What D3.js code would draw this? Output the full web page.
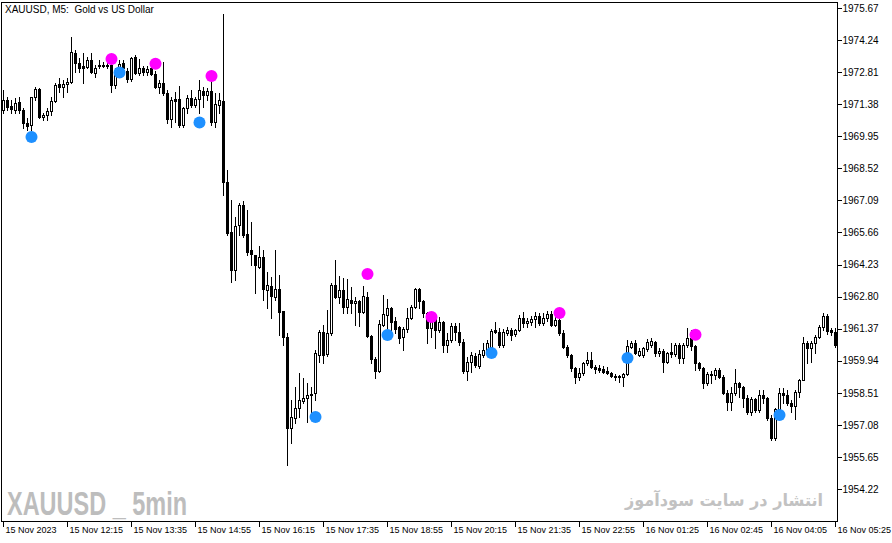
<!DOCTYPE html>
<html>
<head>
<meta charset="utf-8">
<script src="https://cdn.jsdelivr.net/npm/d3@7"></script>
<style>
  body { margin: 0; background: #fff; }
  svg { display: block; }
  .axis text { font-family: "Liberation Sans", Arial, sans-serif; font-size: 10px; fill: #000; }
  .axis line { stroke: #000; }
</style>
</head>
<body>
<div id="chart"></div>
<script>
// XAUUSD M5, 15 Nov 2023 10:55 -> 16 Nov 05:25 (one bar per 5 min)
const opens = [
  1971.12,1971.57,1971.30,1971.12,1971.48,1971.12,1970.55,1970.45,1971.71,1972.06,
  1970.81,1970.90,1971.08,1971.53,1972.28,1972.15,1972.28,1972.37,1973.67,1973.22,
  1973.08,1973.04,1973.35,1972.78,1973.08,1973.13,1973.08,1973.13,1972.24,1972.73,
  1973.22,1972.86,1972.50,1973.49,1972.78,1972.99,1972.82,1972.99,1972.73,1972.15,
  1972.33,1971.88,1970.72,1971.62,1971.62,1970.46,1971.21,1971.66,1971.35,1971.62,
  1971.97,1971.80,1971.97,1970.59,1971.35,1971.53,1967.91,1965.68,1963.99,1966.00,
  1966.89,1965.59,1964.88,1964.66,1964.12,1964.57,1963.10,1963.27,1962.78,1963.14,
  1962.16,1961.00,1956.94,1957.39,1957.83,1958.15,1958.28,1958.46,1958.51,1960.20,
  1961.22,1960.24,1961.18,1963.32,1962.78,1963.10,1962.34,1962.65,1962.52,1962.61,
  1962.11,1962.78,1961.04,1960.02,1959.49,1961.53,1961.98,1962.29,1961.71,1961.44,
  1961.00,1961.36,1961.85,1962.34,1963.14,1962.61,1962.07,1961.40,1961.85,1961.31,
  1961.67,1960.64,1960.87,1961.49,1961.22,1960.78,1959.49,1959.88,1960.15,1959.71,
  1960.20,1960.42,1960.56,1961.31,1961.22,1960.64,1961.18,1961.31,1961.13,1961.31,
  1961.85,1961.62,1961.67,1961.80,1961.93,1961.62,1961.85,1962.02,1961.53,1961.76,
  1961.18,1960.56,1960.20,1959.62,1959.22,1959.40,1959.84,1959.97,1959.66,1959.62,
  1959.57,1959.49,1959.40,1959.26,1959.26,1959.22,1959.35,1960.56,1960.73,1960.20,
  1960.20,1960.47,1960.64,1960.78,1960.29,1960.38,1959.88,1960.33,1960.24,1960.64,
  1960.06,1960.64,1960.95,1960.60,1959.84,1959.62,1958.95,1959.35,1959.31,1959.53,
  1959.22,1958.51,1958.10,1958.51,1958.95,1958.77,1958.28,1957.65,1958.24,1957.74,
  1958.42,1958.28,1957.39,1956.50,1957.79,1958.51,1958.42,1958.06,1957.92,1958.55,
  1959.08,1960.73,1960.51,1960.73,1961.00,1961.44,1961.93,1961.31,1961.22,1960.64
];
const highs = [
  1972.02,1971.71,1971.57,1971.66,1971.71,1971.21,1970.77,1971.71,1972.15,1972.10,
  1970.99,1971.21,1971.71,1972.33,1972.55,1972.46,1972.55,1974.38,1973.80,1973.44,
  1973.67,1973.49,1973.67,1973.13,1973.35,1973.26,1973.26,1973.22,1972.99,1973.35,
  1973.35,1972.99,1973.49,1973.58,1973.40,1973.08,1973.08,1973.04,1972.86,1972.46,
  1973.26,1972.02,1971.71,1971.93,1972.19,1971.26,1971.80,1972.02,1971.71,1972.46,
  1972.15,1972.10,1972.46,1971.88,1971.88,1975.40,1968.45,1967.11,1966.35,1966.98,
  1967.07,1966.66,1966.13,1964.66,1965.06,1964.88,1963.90,1963.68,1964.88,1963.77,
  1962.16,1961.18,1958.19,1958.77,1959.40,1959.17,1958.95,1958.77,1960.42,1961.31,
  1961.53,1962.20,1963.41,1964.43,1963.72,1963.63,1963.59,1963.23,1962.78,1962.65,
  1963.27,1963.01,1961.09,1960.11,1961.76,1962.87,1962.70,1962.34,1961.89,1961.49,
  1961.44,1962.29,1962.43,1963.19,1963.19,1962.65,1962.11,1961.98,1961.93,1961.89,
  1961.71,1961.18,1961.62,1961.62,1961.62,1960.91,1960.11,1960.33,1960.29,1960.42,
  1960.73,1960.87,1961.36,1961.67,1961.40,1961.36,1961.44,1961.40,1961.36,1961.98,
  1962.11,1961.85,1961.93,1962.11,1962.07,1962.07,1962.16,1962.16,1962.11,1961.93,
  1961.31,1960.64,1960.24,1959.66,1959.62,1959.88,1960.33,1960.33,1959.75,1959.75,
  1959.71,1959.66,1959.44,1959.35,1959.31,1959.40,1960.87,1960.82,1960.87,1960.51,
  1960.56,1960.91,1960.95,1960.82,1960.51,1960.47,1960.33,1960.73,1960.73,1960.73,
  1960.73,1961.40,1961.31,1960.64,1959.88,1959.66,1959.44,1959.49,1959.62,1959.62,
  1959.31,1958.64,1958.77,1959.57,1958.99,1958.82,1958.42,1958.32,1958.28,1958.64,
  1958.64,1958.32,1957.52,1957.83,1958.72,1958.72,1958.64,1958.19,1958.64,1959.13,
  1961.00,1960.82,1960.82,1961.09,1961.53,1962.07,1962.02,1961.40,1961.40,1961.09
];
const lows = [
  1970.99,1971.12,1970.99,1970.99,1970.99,1970.32,1970.23,1970.23,1971.57,1970.76,
  1970.68,1970.68,1970.90,1971.48,1971.93,1971.71,1971.93,1972.33,1972.82,1972.82,
  1972.33,1972.99,1972.78,1972.60,1972.99,1973.04,1972.99,1971.93,1972.10,1972.64,
  1972.91,1972.37,1972.42,1972.73,1972.69,1972.69,1972.69,1972.69,1972.10,1971.88,
  1971.80,1970.55,1970.37,1970.59,1970.37,1970.37,1970.99,1971.26,1971.26,1970.99,
  1971.26,1971.57,1970.46,1970.37,1970.99,1967.34,1965.55,1963.45,1963.54,1965.55,
  1965.46,1964.66,1964.21,1962.97,1964.08,1962.65,1962.29,1961.85,1962.65,1961.09,
  1960.64,1955.29,1956.28,1957.17,1957.43,1958.06,1957.21,1957.30,1958.19,1959.88,
  1959.84,1960.15,1961.09,1962.74,1962.52,1962.07,1962.07,1962.07,1961.53,1961.49,
  1962.07,1961.00,1959.84,1959.17,1959.44,1961.49,1961.40,1961.31,1961.18,1960.73,
  1960.42,1961.22,1961.80,1962.29,1962.29,1961.89,1960.73,1961.00,1960.51,1961.22,
  1960.33,1960.33,1960.78,1960.87,1960.64,1959.40,1959.08,1959.44,1959.66,1959.62,
  1960.11,1960.29,1960.42,1961.18,1960.56,1960.56,1961.09,1960.87,1961.04,1961.27,
  1961.44,1961.44,1961.53,1961.44,1961.53,1961.53,1961.71,1961.49,1961.49,1961.09,
  1960.51,1960.11,1959.49,1958.95,1959.08,1959.31,1959.75,1959.62,1959.40,1959.44,
  1959.40,1959.35,1959.22,1959.08,1958.99,1958.82,1959.31,1960.51,1960.24,1960.15,
  1960.11,1960.38,1960.56,1960.15,1960.15,1959.44,1959.84,1960.11,1960.15,1959.84,
  1959.84,1960.56,1960.42,1959.53,1959.53,1958.73,1958.86,1958.95,1959.13,1959.17,
  1958.46,1957.74,1957.74,1958.42,1958.32,1957.88,1957.56,1957.52,1957.65,1957.65,
  1958.06,1957.30,1956.41,1956.41,1957.74,1958.06,1957.97,1957.65,1957.34,1958.32,
  1959.08,1959.84,1959.88,1960.29,1960.95,1961.31,1961.13,1961.09,1960.56,1960.51
];
const closes = [
  1971.57,1971.26,1971.17,1971.44,1971.12,1970.55,1970.41,1971.71,1972.06,1970.81,
  1970.90,1971.08,1971.53,1972.24,1972.15,1972.28,1972.37,1973.71,1973.22,1972.99,
  1972.99,1973.35,1972.82,1972.99,1973.13,1973.08,1973.13,1972.24,1972.91,1973.17,
  1972.99,1972.50,1973.44,1972.78,1972.99,1972.82,1972.95,1972.73,1972.15,1972.33,
  1971.88,1970.72,1971.57,1971.53,1970.46,1971.21,1971.66,1971.35,1971.62,1972.02,
  1971.80,1971.97,1970.59,1971.39,1971.57,1967.91,1965.64,1963.99,1965.95,1966.89,
  1965.55,1964.79,1964.70,1964.21,1964.57,1963.14,1963.32,1962.83,1963.14,1962.11,
  1961.00,1956.94,1957.43,1957.83,1958.19,1958.28,1958.42,1958.42,1960.29,1961.22,
  1960.20,1961.18,1963.32,1962.78,1963.10,1962.34,1962.70,1962.52,1962.61,1962.11,
  1962.83,1961.04,1960.02,1959.49,1961.58,1962.02,1962.29,1961.67,1961.36,1960.95,
  1961.36,1961.85,1962.34,1963.14,1962.61,1962.07,1961.40,1961.85,1961.31,1961.67,
  1960.64,1960.87,1961.49,1961.22,1960.78,1959.49,1959.88,1960.20,1959.75,1960.24,
  1960.42,1960.73,1961.27,1961.22,1960.64,1961.22,1961.31,1961.09,1961.31,1961.85,
  1961.62,1961.71,1961.80,1961.93,1961.62,1961.85,1962.02,1961.53,1961.76,1961.18,
  1960.56,1960.20,1959.62,1959.22,1959.40,1959.84,1959.97,1959.66,1959.57,1959.53,
  1959.44,1959.40,1959.26,1959.22,1959.22,1959.35,1960.60,1960.73,1960.29,1960.38,
  1960.51,1960.78,1960.82,1960.29,1960.38,1959.88,1960.29,1960.24,1960.64,1960.06,
  1960.64,1960.95,1960.60,1959.84,1959.62,1958.95,1959.35,1959.31,1959.53,1959.22,
  1958.51,1958.10,1958.51,1958.95,1958.77,1958.28,1957.65,1958.24,1957.74,1958.42,
  1958.28,1957.39,1956.50,1957.79,1958.51,1958.42,1958.06,1957.92,1958.55,1959.08,
  1960.73,1960.51,1960.73,1961.00,1961.44,1961.93,1961.27,1961.22,1960.64,1960.95
];

// indicator dots: bar index + price
const blueIdx = [7, 29, 49, 78, 96, 122, 156, 194];
const bluePrice = [1969.92, 1972.79, 1970.56, 1957.43, 1961.09, 1960.29, 1960.06, 1957.52];
const magentaIdx = [27, 38, 52, 91, 107, 139, 173];
const magentaPrice = [1973.40, 1973.18, 1972.64, 1963.81, 1961.89, 1962.07, 1961.10];

const priceTicks = [1975.67,1974.24,1972.81,1971.38,1969.95,1968.52,1967.09,1965.66,
                    1964.23,1962.80,1961.37,1959.94,1958.51,1957.08,1955.65,1954.22];
const timeIdx = [0,16,32,48,64,80,96,112,128,144,160,176,192,208];
const timeLabels = ["15 Nov 2023","15 Nov 12:15","15 Nov 13:35","15 Nov 14:55","15 Nov 16:15",
                    "15 Nov 17:35","15 Nov 18:55","15 Nov 20:15","15 Nov 21:35","15 Nov 22:55",
                    "16 Nov 01:25","16 Nov 02:45","16 Nov 04:05","16 Nov 05:25"];

const WIDTH = 892;
const HEIGHT = 543;
const FRAME = {left: 1.5, top: 2.5, right: 837.5, bottom: 521.5};

const svg = d3.select("#chart")
    .append("svg")
        .attr("width", WIDTH)
        .attr("height", HEIGHT);

const X_SCALE = d3.scaleLinear()
    .domain([0, 209])
    .range([3, 3 + 4 * 209]);

const Y_SCALE = d3.scaleLinear()
    .domain([1954.22, 1975.67])
    .range([489, 8]);

svg.append("clipPath")
    .attr("id", "plot")
    .append("rect")
        .attr("x", FRAME.left)
        .attr("y", FRAME.top)
        .attr("width", FRAME.right - FRAME.left)
        .attr("height", FRAME.bottom - FRAME.top);

// watermarks behind the bars
svg.append("text")
    .attr("x", 7)
    .attr("y", 515)
    .attr("textLength", 180)
    .attr("lengthAdjust", "spacingAndGlyphs")
    .attr("font-family", "'Liberation Sans Narrow', 'Liberation Sans', Arial, sans-serif")
    .attr("font-weight", "bold")
    .attr("font-size", 34)
    .attr("fill", "#bdbdbd")
    .text("XAUUSD _ 5min");

svg.append("text")
    .attr("x", 625)
    .attr("y", 506)
    .attr("textLength", 198)
    .attr("lengthAdjust", "spacingAndGlyphs")
    .attr("font-family", "'DejaVu Sans', sans-serif")
    .attr("font-weight", "bold")
    .attr("font-size", 17)
    .attr("fill", "#c2c2c2")
    .text("انتشار در سایت سودآموز");

const bars = svg.append("g")
    .attr("clip-path", "url(#plot)")
    .attr("shape-rendering", "crispEdges");

const idx = d3.range(opens.length);

bars.selectAll(".wick")
    .data(idx)
    .enter()
    .append("line")
        .attr("x1", (i) => {return Math.round(X_SCALE(i)) + 0.5;})
        .attr("x2", (i) => {return Math.round(X_SCALE(i)) + 0.5;})
        .attr("y1", (i) => {return Math.round(Y_SCALE(highs[i]));})
        .attr("y2", (i) => {return Math.round(Y_SCALE(lows[i])) + 1;})
        .attr("stroke", "#000");

bars.selectAll(".body")
    .data(idx)
    .enter()
    .append("rect")
        .attr("x", (i) => {return Math.round(X_SCALE(i)) - 0.5;})
        .attr("y", (i) => {return Math.round(Y_SCALE(Math.max(opens[i], closes[i]))) + 0.5;})
        .attr("width", 2)
        .attr("height", (i) => {
            let h = Math.round(Y_SCALE(Math.min(opens[i], closes[i]))) - Math.round(Y_SCALE(Math.max(opens[i], closes[i])));
            return Math.max(h, 0);
        })
        .attr("fill", (i) => {return closes[i] >= opens[i] ? "#fff" : "#000";})
        .attr("stroke", "#000");

// signal dots
const dots = svg.append("g").attr("clip-path", "url(#plot)");
dots.selectAll(".blue")
    .data(blueIdx)
    .enter()
    .append("circle")
        .attr("cx", (d) => {return X_SCALE(d) + 0.5;})
        .attr("cy", (d, k) => {return Y_SCALE(bluePrice[k]);})
        .attr("r", 6)
        .attr("fill", "#1e90ff");
dots.selectAll(".magenta")
    .data(magentaIdx)
    .enter()
    .append("circle")
        .attr("cx", (d) => {return X_SCALE(d) + 0.5;})
        .attr("cy", (d, k) => {return Y_SCALE(magentaPrice[k]);})
        .attr("r", 6)
        .attr("fill", "#ff00ff");

// frame
svg.append("rect")
    .attr("x", FRAME.left)
    .attr("y", FRAME.top)
    .attr("width", FRAME.right - FRAME.left)
    .attr("height", FRAME.bottom - FRAME.top)
    .attr("fill", "none")
    .attr("stroke", "#000")
    .attr("shape-rendering", "crispEdges");

svg.append("text")
    .attr("x", 5)
    .attr("y", 13)
    .attr("font-family", "'Liberation Sans', Arial, sans-serif")
    .attr("font-size", 10)
    .attr("fill", "#000")
    .attr("xml:space", "preserve")
    .text("XAUUSD, M5:  Gold vs US Dollar");

// price axis
const yAxis = svg.append("g")
    .attr("class", "axis")
    .attr("transform", "translate(" + FRAME.right + ",0)")
    .call(d3.axisRight(Y_SCALE)
        .tickValues(priceTicks)
        .tickSize(4)
        .tickPadding(1)
        .tickFormat(d3.format(".2f")));
yAxis.select(".domain").remove();
yAxis.selectAll("line").attr("shape-rendering", "crispEdges");

// time axis
const xAxis = svg.append("g")
    .attr("class", "axis")
    .attr("transform", "translate(0," + FRAME.bottom + ")")
    .call(d3.axisBottom(X_SCALE)
        .tickValues(timeIdx)
        .tickSize(5)
        .tickFormat((d, k) => {return timeLabels[k];}));
xAxis.select(".domain").remove();
xAxis.selectAll("line").attr("shape-rendering", "crispEdges");
xAxis.selectAll("text")
    .attr("text-anchor", "start")
    .attr("x", 2)
    .attr("dy", "0.95em")
    .attr("y", 3)
    .style("font-size", "9px");
</script>
</body>
</html>
